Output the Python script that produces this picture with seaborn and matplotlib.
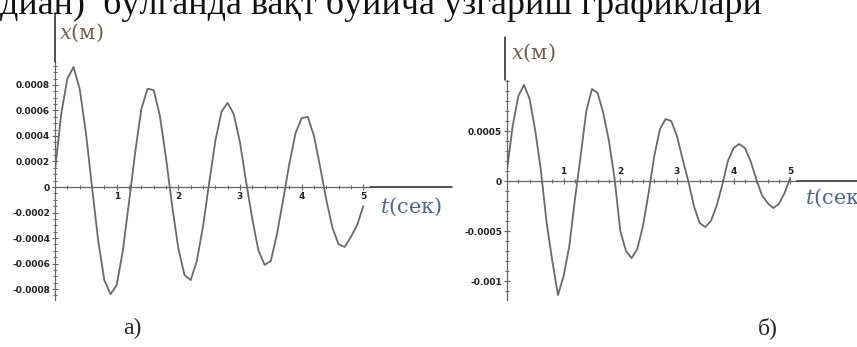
import numpy as np
import pandas as pd
import seaborn as sns
from matplotlib import pyplot as plt
from matplotlib.lines import Line2D
from matplotlib.ticker import MultipleLocator, FixedLocator

# vaqt (sek)
t = [round(0.1 * i, 1) for i in range(51)]

# a) siljish x(m)
x_a = [0.00013, 0.00057, 0.00085, 0.00094, 0.00077, 0.00043, 0.00000, -0.00042, -0.00073, -0.00084,
       -0.00077, -0.00050, -0.00012, 0.00027, 0.00061, 0.00077, 0.00076, 0.00056, 0.00023, -0.00015,
       -0.00048, -0.00069, -0.00073, -0.00058, -0.00031, 0.00003, 0.00036, 0.00059, 0.00066, 0.00057,
       0.00035, 0.00004, -0.00025, -0.00050, -0.00061, -0.00058, -0.00037, -0.00010, 0.00018, 0.00042,
       0.00054, 0.00055, 0.00040, 0.00016, -0.00010, -0.00032, -0.00045, -0.00047, -0.00039, -0.00030,
       -0.00015]

# б) siljish x(m)
x_b = [0.00011, 0.00055, 0.00085, 0.00096, 0.00082, 0.00050, 0.00010, -0.00042, -0.00080, -0.00114,
       -0.00095, -0.00065, -0.00018, 0.00025, 0.00070, 0.00092, 0.00088, 0.00068, 0.00040, 0.00002,
       -0.00050, -0.00070, -0.00077, -0.00068, -0.00045, -0.00012, 0.00025, 0.00052, 0.00062, 0.00060,
       0.00045, 0.00022, 0.00000, -0.00025, -0.00042, -0.00046, -0.00040, -0.00025, -0.00004, 0.00020,
       0.00033, 0.00037, 0.00033, 0.00020, 0.00002, -0.00014, -0.00022, -0.00027, -0.00023, -0.00012,
       0.00003]

xticks = [1, 2, 3, 4, 5]
yticks_a = [-0.0008, -0.0006, -0.0004, -0.0002, 0, 0.0002, 0.0004, 0.0006, 0.0008]
ylabels_a = ['-0.0008', '-0.0006', '-0.0004', '-0.0002', '0', '0.0002', '0.0004', '0.0006', '0.0008']
yticks_b = [-0.001, -0.0005, 0, 0.0005]
ylabels_b = ['-0.001', '-0.0005', '0', '0.0005']

sns.set_style("white")
plt.rcParams['font.family'] = ['DejaVu Sans']
plt.rcParams['mathtext.fontset'] = 'dejavuserif'

fig = plt.figure(figsize=(8.57, 3.47), dpi=100)

ax_a = fig.add_axes([0.0642, 0.1354, 0.3676, 0.6859])
ax_b = fig.add_axes([0.5916, 0.1354, 0.3384, 0.634])

df_a = pd.DataFrame({'t': t, 'x': x_a})
df_b = pd.DataFrame({'t': t, 'x': x_b})

sns.lineplot(data=df_a, x='t', y='x', ax=ax_a, color='#6a6a6a', linewidth=1.3, estimator=None)
sns.lineplot(data=df_b, x='t', y='x', ax=ax_b, color='#6a6a6a', linewidth=1.3, estimator=None)

ax_a.set_xlim(0, 5.11)
ax_a.set_ylim(-0.000886, 0.00098)
ax_b.set_xlim(0, 5.12)
ax_b.set_ylim(-0.00119, 0.00101)


def maple_axes(ax, yticks, ylabels, yminor, labels_top):
    ax.patch.set_alpha(0)
    ax.set_xlabel('')
    ax.set_ylabel('')
    for s in ['left', 'bottom', 'top']:
        ax.spines[s].set_position(('data', 0))
    ax.spines['top'].set_visible(False)
    ax.spines['right'].set_visible(False)
    for s in ['left', 'bottom']:
        ax.spines[s].set_color('#666666')
        ax.spines[s].set_linewidth(0.9)
    ax.xaxis.set_major_locator(FixedLocator(xticks))
    ax.xaxis.set_minor_locator(MultipleLocator(0.2))
    ax.set_xticklabels([str(v) for v in xticks])
    ax.yaxis.set_major_locator(FixedLocator(yticks))
    ax.yaxis.set_minor_locator(MultipleLocator(yminor))
    ax.set_yticklabels(ylabels)
    ax.tick_params(axis='both', which='major', direction='inout', length=4, width=0.8,
                   color='#666666', labelsize=6.5, pad=1.5, labelcolor='#222222')
    ax.tick_params(axis='both', which='minor', direction='inout', length=2.5, width=0.7,
                   color='#666666')
    ax.tick_params(axis='y', which='both', left=True, right=False)
    if labels_top:
        ax.tick_params(axis='x', which='both', bottom=True, top=False,
                       labelbottom=False, labeltop=True)
    else:
        ax.tick_params(axis='x', which='both', bottom=True, top=False)
    for lab in ax.get_xticklabels() + ax.get_yticklabels():
        lab.set_fontweight('bold')


maple_axes(ax_a, yticks_a, ylabels_a, 0.00005, False)
maple_axes(ax_b, yticks_b, ylabels_b, 0.0001, True)

# chiziqlar (hujjatdagi o'qlar davomi)
line_kw = dict(color='#222222', linewidth=1.1, transform=fig.transFigure)
fig.add_artist(Line2D([0.4317, 0.5274], [0.4611, 0.4611], **line_kw))
fig.add_artist(Line2D([0.930, 1.0], [0.4784, 0.4784], **line_kw))
fig.add_artist(Line2D([0.0642, 0.0642], [0.9625, 0.8213], **line_kw))
fig.add_artist(Line2D([0.5893, 0.5893], [0.8934, 0.7695], **line_kw))

lab_kw = dict(family='DejaVu Serif', fontsize=15, va='center', ha='left')
fig.text(0.069, 0.905, r'$x$(м)', color='#6e6256', **lab_kw)
fig.text(0.5965, 0.847, r'$x$(м)', color='#6e6256', **lab_kw)
fig.text(0.4434, 0.4035, r'$t$(сек)', color='#4f6690', **lab_kw)
fig.text(0.9393, 0.4294, r'$t$(сек)', color='#4f6690', **lab_kw)

# sarlavha (kesilgan)
fig.text(0.0, 0.96, 'диан)  бўлганда вақт бўйича ўзгариш графиклари',
         family='Liberation Serif', fontsize=26, va='baseline', ha='left', color='#111111')

fig.text(0.154, 0.0548, 'а)', family='Liberation Serif', fontsize=17, ha='center', va='center')
fig.text(0.896, 0.0548, 'б)', family='Liberation Serif', fontsize=17, ha='center', va='center')

plt.savefig('out.png', dpi=100)
